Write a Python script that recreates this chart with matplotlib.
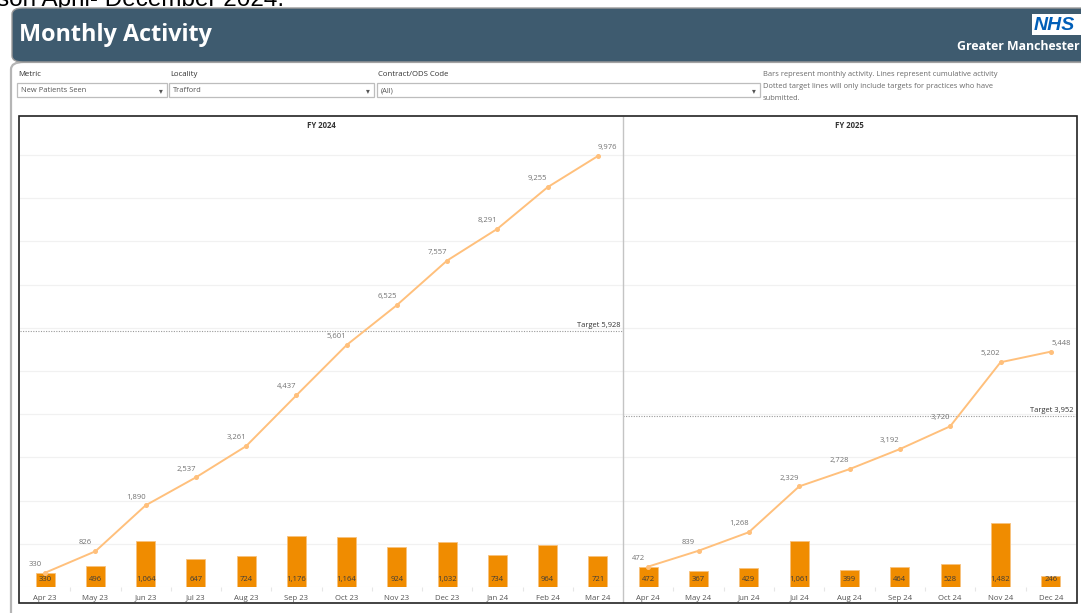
import matplotlib
matplotlib.use("Agg")
import matplotlib.pyplot as plt
from matplotlib.patches import Rectangle, FancyBboxPatch
from matplotlib.lines import Line2D

# ---------------- data ----------------
months_fy24 = ["Apr 23", "May 23", "Jun 23", "Jul 23", "Aug 23", "Sep 23",
               "Oct 23", "Nov 23", "Dec 23", "Jan 24", "Feb 24", "Mar 24"]
monthly_fy24 = [330, 496, 1064, 647, 724, 1176, 1164, 924, 1032, 734, 964, 721]
cumulative_fy24 = [330, 826, 1890, 2537, 3261, 4437, 5601, 6525, 7557, 8291, 9255, 9976]
target_fy24 = 5928

months_fy25 = ["Apr 24", "May 24", "Jun 24", "Jul 24", "Aug 24", "Sep 24",
               "Oct 24", "Nov 24", "Dec 24"]
monthly_fy25 = [472, 367, 429, 1061, 399, 464, 528, 1482, 246]
cumulative_fy25 = [472, 839, 1268, 2329, 2728, 3192, 3720, 5202, 5448]
target_fy25 = 3952

panel_titles = ["FY 2024", "FY 2025"]
dashboard_title = "Monthly Activity"
filter_labels = ["Metric", "Locality", "Contract/ODS Code"]
filter_values = ["New Patients Seen", "Trafford", "(All)"]
note_lines = ["Bars represent monthly activity. Lines represent cumulative activity",
              "Dotted target lines will only include targets for practices who have",
              "submitted."]

# ---------------- figure ----------------
W, H = 1081, 613
fig = plt.figure(figsize=(W / 100, H / 100), dpi=100)
fig.patch.set_facecolor("white")
FONT = ["Open Sans", "DejaVu Sans"]
plt.rcParams["font.family"] = FONT


def fx(x):
    return x / W


def fy(y):
    return 1 - y / H


# cut-off text at the very top (only its lower part is visible in the reference)
fig.text(fx(-3), fy(6), "son April- December 2024.", fontsize=17.5,
         family=["Liberation Sans", "DejaVu Sans"],
         color="black", ha="left", va="baseline", zorder=0)

# content container (grey outline with rounded corner)
fig.patches.append(FancyBboxPatch((fx(11), fy(680)), fx(1200), fy(62) - fy(680),
                                  boxstyle="round,pad=0,rounding_size=0.012",
                                  transform=fig.transFigure, facecolor="none",
                                  edgecolor="#b5b5b5", linewidth=1.6, zorder=0))

# header banner
fig.patches.append(FancyBboxPatch((fx(12), fy(62)), fx(1200), fy(8) - fy(62),
                                  boxstyle="round,pad=0,rounding_size=0.01",
                                  transform=fig.transFigure, facecolor="#3e5b6f",
                                  edgecolor="#9a9a9a", linewidth=1.0, zorder=1))
fig.text(fx(19), fy(35), dashboard_title, fontsize=16.8, fontweight="bold",
         color="white", ha="left", va="center", zorder=3)

# NHS logo
fig.patches.append(Rectangle((fx(1032), fy(35)), fx(60), fy(14) - fy(35),
                             transform=fig.transFigure, facecolor="white",
                             edgecolor="none", zorder=2))
fig.text(fx(1034), fy(25), "NHS", fontsize=14, fontweight="bold", style="italic",
         family=["Liberation Sans", "DejaVu Sans"], color="#005eb8",
         ha="left", va="center", zorder=3)
fig.text(fx(1080), fy(47), "Greater Manchester", fontsize=8.8, fontweight="bold",
         color="white", ha="right", va="center", zorder=3)

# filters
filter_boxes = [(17, 167), (169, 374), (377, 760)]
for lab, val, (x0, x1) in zip(filter_labels, filter_values, filter_boxes):
    fig.text(fx(x0 + 1), fy(74), lab, fontsize=5.6, color="#333333",
             ha="left", va="center")
    fig.patches.append(Rectangle((fx(x0), fy(97)), fx(x1 - x0), fy(83) - fy(97),
                                 transform=fig.transFigure, facecolor="white",
                                 edgecolor="#bdbdbd", linewidth=0.9, zorder=2))
    fig.text(fx(x0 + 4), fy(90.5), val, fontsize=5.4, color="#555555",
             ha="left", va="center", zorder=3)
    fig.text(fx(x1 - 6), fy(90.5), "▾", fontsize=5.5, color="#555555",
             family=["DejaVu Sans"], ha="center", va="center", zorder=3)

for i, line in enumerate(note_lines):
    fig.text(fx(763), fy(75 + 12 * i), line, fontsize=5.4, color="#6a6a6a",
             ha="left", va="center")

# chart panel border
fig.patches.append(Rectangle((fx(19), fy(603)), fx(1077 - 19), fy(116) - fy(603),
                             transform=fig.transFigure, facecolor="none",
                             edgecolor="#222222", linewidth=1.2, zorder=5))
fig.lines.append(Line2D([fx(623), fx(623)], [fy(117), fy(602)],
                        transform=fig.transFigure, color="#c4c4c4",
                        linewidth=1.0, zorder=5))

# ---------------- charts ----------------
px_per_unit = 43.2 / 1000.0
y_bottom, y_top = 587, 136
ymax = (y_bottom - y_top) / px_per_unit

BAR_C = "#f08c00"
LINE_C = "#ffc07c"

panels = [
    (20, 623, months_fy24, monthly_fy24, cumulative_fy24, target_fy24, panel_titles[0]),
    (623, 1076, months_fy25, monthly_fy25, cumulative_fy25, target_fy25, panel_titles[1]),
]

for (x0, x1, months, monthly, cumul, target, title) in panels:
    ax = fig.add_axes([fx(x0), fy(y_bottom), (x1 - x0) / W, (y_bottom - y_top) / H],
                      zorder=3)
    ax.set_facecolor("none")
    n = len(months)
    xs = list(range(n))
    ax.set_xlim(-0.5, n - 0.5)
    ax.set_ylim(0, ymax)
    for s in ax.spines.values():
        s.set_visible(False)
    ax.set_yticks(range(1000, 10001, 1000))
    ax.yaxis.grid(True, color="#f1f1f1", linewidth=0.9)
    ax.set_axisbelow(True)
    ax.tick_params(axis="y", left=False, labelleft=False)
    ax.set_xticks(xs)
    ax.set_xticklabels(months, fontsize=5.6, color="#555555")
    ax.tick_params(axis="x", length=0, pad=5.5)
    ax.set_xticks([i + 0.5 for i in range(n - 1)], minor=True)
    ax.tick_params(axis="x", which="minor", length=3, color="#e6e6e6", width=0.8)
    ax.axhline(0, color="#f0f0f0", linewidth=0.8, zorder=1)

    ax.bar(xs, monthly, width=0.38, color=BAR_C, edgecolor="#f8c27e",
           linewidth=0.6, zorder=2)
    for x, v in zip(xs, monthly):
        ax.annotate(f"{v:,}", (x, 0), xytext=(0, 5.2), textcoords="offset points",
                    ha="center", va="center", fontsize=5.5, color="#3a3a3a", zorder=4)

    ax.plot(xs, cumul, color=LINE_C, linewidth=1.4, marker="o", markersize=2.6,
            zorder=3, clip_on=False)
    for i, (x, v) in enumerate(zip(xs, cumul)):
        dx = 7.2 if i == n - 1 else -7.2
        ax.annotate(f"{v:,}", (x, v), xytext=(dx, 6), textcoords="offset points",
                    ha="center", va="center", fontsize=5.5, color="#727272", zorder=4)

    ax.axhline(target, color="#9a9a9a", linewidth=0.8, linestyle=(0, (1, 1.3)), zorder=2)
    ax.annotate(f"Target {target:,}", (1, target), xycoords=("axes fraction", "data"),
                xytext=(-1.5, 4), textcoords="offset points", ha="right", va="center",
                fontsize=5.4, color="#333333", zorder=4)

    fig.text(fx((x0 + x1) / 2), fy(126), title, fontsize=5.6, fontweight="bold",
             color="#333333", ha="center", va="center")

fig.savefig("out.png", dpi=100, facecolor="white")
